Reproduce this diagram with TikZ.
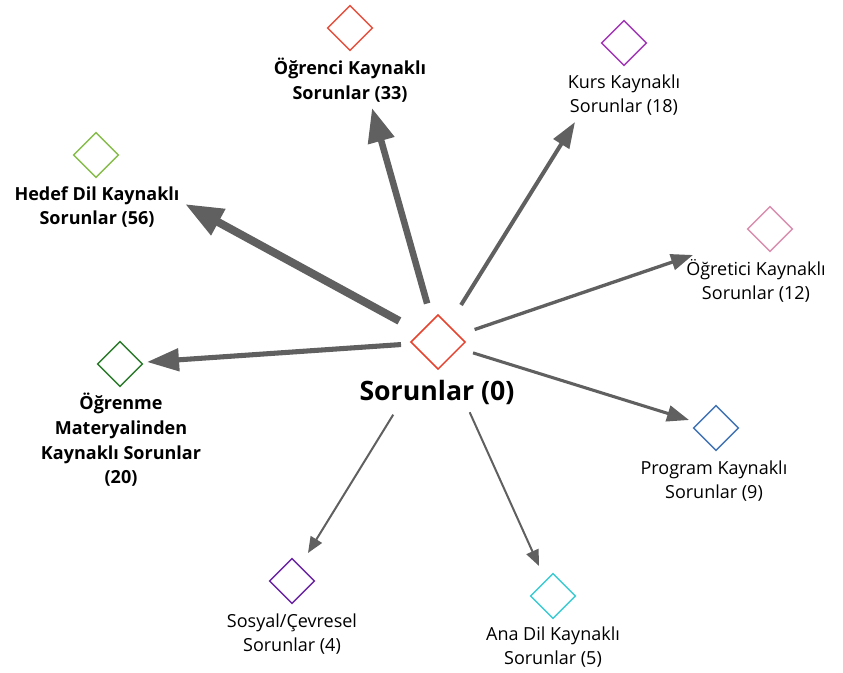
\documentclass[tikz,border=0pt]{standalone}
\usepackage{fontspec}
\setmainfont{Open Sans}
\usetikzlibrary{arrows.meta,shapes.geometric}

\definecolor{hubred}{HTML}{E5432F}
\definecolor{ogrred}{HTML}{E8503E}
\definecolor{kurspurple}{HTML}{A236B8}
\definecolor{ogrtpink}{HTML}{DA8DAD}
\definecolor{progblue}{HTML}{3F73B5}
\definecolor{anacyan}{HTML}{3CCBD3}
\definecolor{sospurple}{HTML}{6A24A6}
\definecolor{mtrgreen}{HTML}{2A7A2A}
\definecolor{hdfgreen}{HTML}{86BC4A}
\definecolor{linkgray}{HTML}{606060}

\tikzset{
    concept/.style={diamond, draw, line width=1.1pt, minimum width=34pt, minimum height=34pt, inner sep=0pt},
    tag/.style={align=center, inner sep=0pt, font=\fontsize{13.5}{18.5}\selectfont},
    tagb/.style={align=center, inner sep=0pt, font=\fontsize{13.5}{18.5}\selectfont\bfseries},
}

\begin{document}
\begin{tikzpicture}[x=0.75pt, y=-0.75pt]
        \useasboundingbox (0,0) rectangle (843,672);
        % merkez
        \node[concept, draw=hubred, minimum width=41pt, minimum height=41pt] (hub) at (438,342) {};
        \node[font=\fontsize{20}{24}\selectfont\bfseries, inner sep=0pt] (hublbl) at (437,392) {Sorunlar (0)};
        % alt kategoriler
        \foreach \n/\x/\y/\c in {ogr/350/28/ogrred, kurs/624/43/kurspurple, ogrt/770/229/ogrtpink,
            prog/716/428/progblue, ana/553/596/anacyan, sos/292/581/sospurple,
            mtr/120/364/mtrgreen, hdf/96/155/hdfgreen} {
                \node[concept, draw=\c] (\n) at (\x,\y) {};
            }
        \node[tagb] (ogrlbl) at (350,80) {Öğrenci Kaynaklı\\Sorunlar (33)};
        \node[tag] (kurslbl) at (624,95) {Kurs Kaynaklı\\Sorunlar (18)};
        \node[tag] (ogrtlbl) at (756,281) {Öğretici Kaynaklı\\Sorunlar (12)};
        \node[tag] (proglbl) at (714,481) {Program Kaynaklı\\Sorunlar (9)};
        \node[tag] (analbl) at (553,647) {Ana Dil Kaynaklı\\Sorunlar (5)};
        \node[tag] (soslbl) at (292,634) {Sosyal/Çevresel\\Sorunlar (4)};
        \node[tagb] (mtrlbl) at (121,440) {Öğrenme\\Materyalinden\\Kaynaklı Sorunlar\\(20)};
        \node[tagb] (hdflbl) at (97,207) {Hedef Dil Kaynaklı\\Sorunlar (56)};
        % ok uclari
        \coordinate (hdf-t) at (185,204);
        \coordinate (ogr-t) at (372,108);
        \coordinate (kurs-t) at (575,122);
        \coordinate (ogrt-t) at (693,255);
        \coordinate (prog-t) at (689,420);
        \coordinate (ana-t) at (539,566);
        \coordinate (sos-t) at (308,553);
        \coordinate (mtr-t) at (147,362);
        \foreach \t/\s/\w/\l/\b in {hdf/33/6/28.5/21, ogr/30/4.9/25.5/19.5, mtr/27.8/3.8/24/16.5,
            kurs/32.7/3/19.5/13.5, ogrt/29/2.5/16.5/12, prog/27.5/2.3/16.5/12,
            ana/57.8/1.5/12/9.75, sos/64/1.5/12/9.75} {
                \draw[linkgray, line width=\w pt, shorten <=\s pt, -{Triangle[length=\l pt, width=\b pt]}] (hub.center) -- (\t-t);
            }
    \end{tikzpicture}
\end{document}
